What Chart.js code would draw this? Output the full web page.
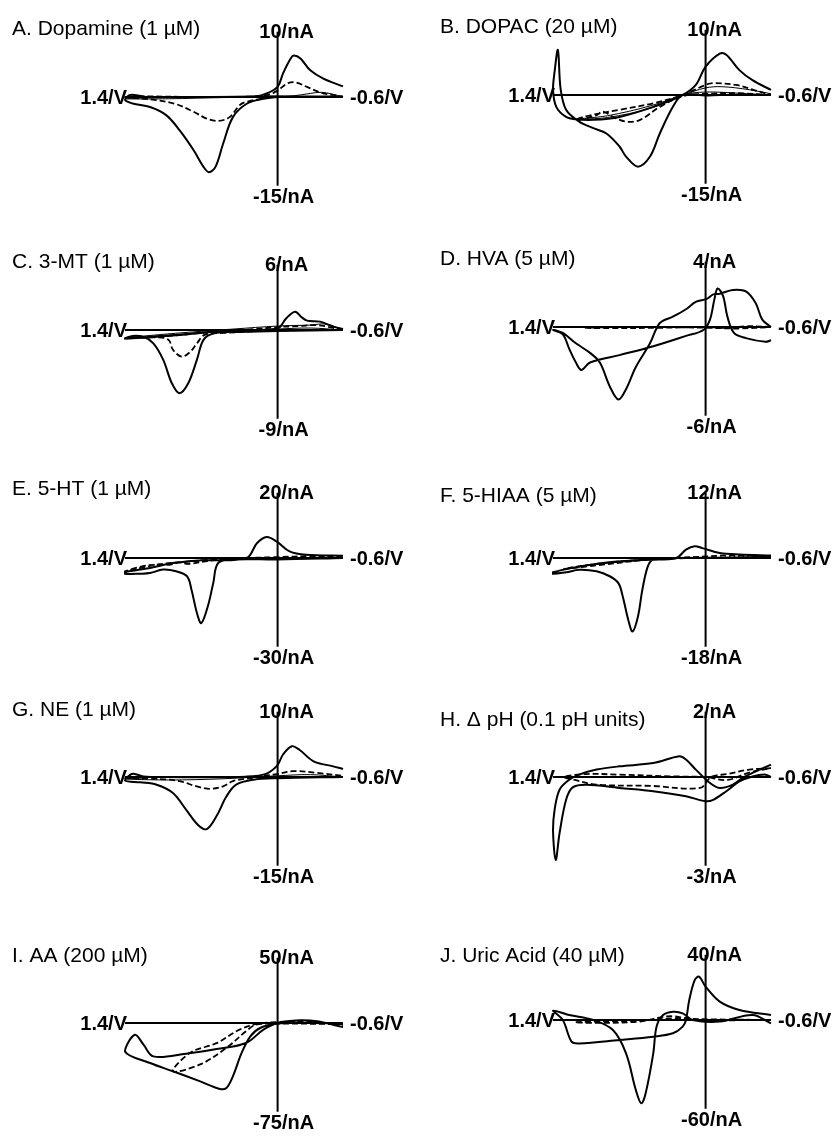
<!DOCTYPE html>
<html>
<head>
<meta charset="utf-8">
<script src="https://cdn.jsdelivr.net/npm/chart.js@4.4.1/dist/chart.umd.min.js"></script>
<style>
  body { margin: 0; background: #fff; width: 840px; height: 1136px; overflow: hidden; position: relative; }
  canvas { position: absolute; }
</style>
</head>
<body>
<div id="figura"></div>
<script>
// títulos y rangos de corriente de cada panel (nA)
const titulos = ['A. Dopamine (1 µM)', 'B. DOPAC (20 µM)', 'C. 3-MT (1 µM)', 'D. HVA (5 µM)',
  'E. 5-HT (1 µM)', 'F. 5-HIAA (5 µM)', 'G. NE (1 µM)', 'H. \u0394 pH (0.1 pH units)',
  'I. AA (200 µM)', 'J. Uric Acid (40 µM)'];
const yMax = [10, 10, 6, 4, 20, 12, 10, 2, 50, 40];
const yMin = [-15, -15, -9, -6, -30, -18, -15, -3, -75, -60];
const potencialIzq = 1.4;
const potencialDer = -0.6;

// voltamogramas: pares [V, nA]
const dopamineSolid = [[-0.6,0.1],[-0.4,0.1],[-0.2,0.05],[0,0],[0.13,-0.3],[0.28,-1.1],[0.41,-3.4],[0.5,-7.9],[0.57,-11.8],[0.63,-12.7],[0.68,-11.8],[0.77,-9],[0.9,-5.6],[1.02,-3.1],[1.17,-1.7],[1.33,-1.1],[1.4,-0.5],[1.36,0.3],[1.3,0.3],[1.2,0],[0.8,0],[0.4,0],[0.2,0.1],[0.1,0.6],[0,1.7],[-0.05,4],[-0.12,6.5],[-0.15,7],[-0.21,6.5],[-0.3,4.5],[-0.42,3.1],[-0.6,1.8]];
const dopamineDashed = [[-0.6,0],[-0.3,0],[0,0],[0.15,-0.3],[0.3,-0.9],[0.35,-1.4],[0.44,-3.4],[0.545,-4.05],[0.65,-3.66],[0.77,-2.5],[0.95,-1.1],[1.17,-0.4],[1.4,0],[1.2,0.1],[0.8,0],[0.4,0],[0.1,0.3],[0,1.1],[-0.09,2.3],[-0.16,2.5],[-0.27,1.7],[-0.4,0.7],[-0.52,0.3],[-0.6,0]];
const dopamineThin = [[-0.6,0],[-0.5,0.5],[-0.4,0.8],[-0.3,0.6],[-0.15,0.2],[0,0],[0.5,-0.1],[1.0,-0.3],[1.4,-0.3],[1.0,0],[0.5,0.1],[0,0.2],[-0.3,0.1],[-0.6,0]];

const dopacSolid = [[-0.6,0],[-0.13,0],[0,-0.1],[0.21,0],[0.3,-2.0],[0.42,-6.5],[0.51,-10.4],[0.62,-12.1],[0.73,-10.4],[0.79,-8.7],[0.91,-6.5],[1.03,-5.6],[1.16,-4.5],[1.28,-2.5],[1.33,1.0],[1.355,7.6],[1.385,4.0],[1.4,1.0],[1.37,-2.0],[1.28,-3.7],[1.19,-4.1],[1.03,-4.2],[0.79,-3.7],[0.48,-2.0],[0.21,0],[0.09,1.7],[0,4.8],[-0.13,7.0],[-0.19,6.8],[-0.31,4.2],[-0.43,2.5],[-0.6,0.85]];
const dopacDashed = [[-0.6,0],[-0.3,0.3],[0,0.2],[0.21,-0.2],[0.42,-2],[0.6,-4.2],[0.73,-4.5],[0.85,-3.7],[0.94,-2.8],[1.0,-3.4],[1.09,-3.9],[1.19,-4.2],[1.1,-3.6],[0.79,-2.5],[0.48,-1.4],[0.21,0],[0,1.7],[-0.07,2],[-0.28,1.7],[-0.45,0.8],[-0.6,0]];
const dopacThin = [[-0.6,0],[-0.3,0.3],[0,0.5],[0.21,0],[0.5,-2.2],[0.9,-3.8],[1.2,-4.1],[0.9,-3.5],[0.5,-1.8],[0.21,0],[0,1.2],[-0.15,1.4],[-0.4,0.9],[-0.6,0.2]];

const mtSolid = [[-0.6,0],[0,-0.1],[0.4,-0.2],[0.59,-0.35],[0.68,-1.0],[0.74,-3.0],[0.82,-5.4],[0.9,-6.4],[0.97,-5.4],[1.05,-3.0],[1.14,-1.35],[1.23,-0.7],[1.33,-0.6],[1.4,-0.85],[1.2,-0.75],[0.9,-0.5],[0.59,-0.17],[0.3,0],[0,0.17],[-0.08,1.2],[-0.16,1.86],[-0.22,1.3],[-0.27,0.95],[-0.39,0.85],[-0.51,0.34],[-0.6,0.1]];
const mtDashed = [[-0.6,0],[0,-0.05],[0.5,-0.3],[0.67,-0.5],[0.74,-1.35],[0.8,-2.2],[0.88,-2.7],[0.96,-2.0],[1.0,-1.0],[1.1,-0.75],[1.4,-0.85],[1.0,-0.6],[0.6,-0.2],[0.2,0.1],[0,0.3],[-0.2,0.4],[-0.35,0.5],[-0.45,0.35],[-0.6,0]];
const mtThin = [[-0.6,0],[-0.45,0.6],[-0.3,0.5],[0,0.4],[0.4,0.1],[0.9,-0.3],[1.4,-0.8],[1.0,-0.5],[0.5,-0.1],[0,0.1],[-0.3,0.2],[-0.6,0]];

const hvaSolid = [[-0.6,0],[-0.52,0.5],[-0.46,1.6],[-0.37,2.4],[-0.25,2.5],[-0.13,2.25],[-0.07,2.2],[-0.01,1.9],[0.09,1.7],[0.18,1.2],[0.3,0.7],[0.42,0.27],[0.51,-1.1],[0.64,-2.7],[0.73,-4.2],[0.8,-4.9],[0.88,-4.0],[0.97,-2.4],[1.06,-1.75],[1.19,-1.1],[1.31,-0.4],[1.4,-0.2],[1.31,-0.5],[1.25,-1.5],[1.19,-2.4],[1.14,-2.9],[1.06,-2.4],[0.79,-1.9],[0.48,-1.3],[0.18,-0.6],[0.02,-0.2],[-0.04,0.5],[-0.08,1.85],[-0.11,2.6],[-0.16,2.1],[-0.2,0.7],[-0.26,-0.4],[-0.37,-0.75],[-0.55,-1.0],[-0.6,-0.9]];
const hvaDashed = [[-0.6,0],[-0.4,0.05],[-0.2,-0.05],[0,0],[0.4,-0.05],[0.9,-0.08],[1.1,-0.05],[0.8,0],[0.4,0],[0,-0.05],[-0.3,-0.1],[-0.6,0]];

const htSolid = [[-0.6,0],[0,-0.5],[0.4,-0.5],[0.545,-1.7],[0.59,-8.4],[0.64,-16.3],[0.7,-22],[0.74,-18.6],[0.79,-10.7],[0.83,-6.2],[0.93,-4.5],[1.05,-3.9],[1.17,-5.1],[1.26,-5.3],[1.4,-5.3],[1.4,-4.8],[1.17,-3.4],[0.96,-1.7],[0.71,-0.8],[0.285,0],[0.19,5],[0.1,7.1],[0.01,5.6],[-0.11,2.25],[-0.26,1.1],[-0.6,0.8]];
const htDashed = [[-0.6,0],[-0.2,0],[0.3,-0.3],[0.6,-0.8],[0.82,-2],[0.9,-1.5],[0.98,-2.2],[1.2,-2.5],[1.4,-4.5],[1.1,-2.2],[0.85,-1.3],[0.5,-0.3],[0,0.3],[-0.3,0.6],[-0.6,0.3]];

const hiaaSolid = [[-0.6,0],[0.27,0],[0.48,-0.3],[0.53,-1.7],[0.58,-6.4],[0.62,-11.8],[0.67,-14.9],[0.71,-12.5],[0.76,-7.8],[0.8,-5.1],[0.88,-3.7],[1.0,-2.7],[1.16,-2.4],[1.28,-2.9],[1.4,-3.2],[1.4,-2.9],[1.22,-2.0],[0.94,-1.0],[0.55,-0.34],[0.27,0],[0.18,1.7],[0.1,2.4],[0.03,2.0],[-0.13,1.0],[-0.31,0.7],[-0.6,0.5]];
const hiaaDashed = [[-0.6,0.3],[-0.2,0.5],[0,0.3],[0.3,0],[0.6,-0.4],[1.0,-1.2],[1.3,-2.2],[1.0,-1.5],[0.6,-0.5],[0.3,-0.1],[0,0],[-0.6,0.3]];

const neSolid = [[-0.6,0],[0,-0.2],[0.22,-0.45],[0.38,-1.3],[0.47,-3.3],[0.56,-6.6],[0.65,-8.8],[0.73,-8.1],[0.84,-5.5],[0.96,-2.7],[1.11,-1.3],[1.26,-0.9],[1.4,-0.6],[1.35,0.4],[1.32,0.55],[1.23,0.1],[1.02,0],[0.41,0],[0.13,0.4],[0.01,1.8],[-0.05,3.8],[-0.13,5.2],[-0.2,4.6],[-0.33,2.65],[-0.51,1.8],[-0.6,1.35]];
const neDashed = [[-0.6,0],[0,0],[0.25,-0.2],[0.41,-0.7],[0.5,-1.6],[0.62,-2.0],[0.74,-1.6],[0.9,-0.7],[1.08,-0.35],[1.4,-0.2],[1.1,0],[0.6,0],[0.2,0.1],[0,0.5],[-0.14,1.0],[-0.36,0.7],[-0.6,0.2]];
const neThin = [[-0.6,0],[-0.3,0.4],[0,0.2],[0.5,-0.3],[1.0,-0.5],[1.4,-0.3],[1.0,0],[0.5,0],[0,0.1],[-0.6,0]];

const phSolid = [[-0.6,0],[-0.55,0.08],[-0.43,0.02],[-0.31,-0.15],[-0.19,-0.48],[-0.07,-0.77],[0,-0.82],[0.18,-0.65],[0.48,-0.48],[0.79,-0.37],[1.09,-0.26],[1.22,-0.35],[1.28,-0.77],[1.34,-1.9],[1.375,-2.8],[1.4,-1.8],[1.385,-1.1],[1.34,-0.43],[1.25,-0.09],[1.16,0.08],[1.0,0.25],[0.79,0.36],[0.48,0.47],[0.24,0.7],[0.18,0.59],[0.09,0.25],[-0.04,-0.2],[-0.13,-0.37],[-0.25,-0.26],[-0.34,-0.03],[-0.43,0.14],[-0.6,0.42]];
const phDashed = [[-0.6,0.3],[-0.4,0.25],[-0.2,0.1],[-0.05,0],[0.05,-0.37],[0.5,-0.3],[1.0,-0.26],[1.2,-0.1],[1.3,0],[1.1,0.1],[0.8,0.08],[0.3,0.02],[0,0],[-0.2,-0.1],[-0.4,0.15],[-0.6,0.3]];

const aaSolid = [[-0.6,-0.6],[-0.2,0.3],[0,-0.5],[0.16,-4.2],[0.25,-11.3],[0.33,-25.3],[0.41,-45],[0.47,-54.9],[0.53,-55.7],[0.71,-49.3],[0.96,-40.8],[1.17,-33.8],[1.4,-24],[1.31,-9.9],[1.23,-18.3],[1.14,-28.2],[0.84,-25.9],[0.56,-22],[0.29,-16.9],[0.13,-5.6],[0,0],[-0.2,2.25],[-0.36,1.4],[-0.6,-3.4]];
const aaDashed = [[-0.6,-1],[0,-0.5],[0.2,-1.5],[0.29,-7],[0.47,-21],[0.71,-35],[0.96,-40.8],[0.8,-25],[0.56,-17],[0.35,-5.6],[0.2,-1],[0,0.8],[-0.3,1.5],[-0.6,-2]];

const uricSolid = [[-0.6,-2.25],[-0.43,3.4],[-0.13,-1.1],[0.12,0],[0.21,4.5],[0.3,5.6],[0.39,3.4],[0.45,-4.5],[0.48,-22.5],[0.55,-49.5],[0.59,-56.3],[0.64,-47.3],[0.73,-22.5],[0.85,-6.8],[1.03,0],[1.25,3.4],[1.4,6.3],[1.31,0],[1.23,-14.6],[1.16,-15.8],[0.79,-13.5],[0.48,-11.3],[0.3,-9],[0.21,-4.5],[0.18,0],[0.15,13.5],[0.1,27],[0.06,29.3],[0,22.5],[-0.13,12.4],[-0.31,6.8],[-0.6,3.4]];
const uricDashed = [[-0.6,0],[0,0],[0.2,1.5],[0.3,2.5],[0.4,2],[0.6,-1],[1.0,-2],[1.2,-1.5],[1.0,-1],[0.5,0],[0.3,1],[0,0.5],[-0.6,0]];

const trazosSolidos = [dopamineSolid, dopacSolid, mtSolid, hvaSolid, htSolid, hiaaSolid, neSolid, phSolid, aaSolid, uricSolid];
const trazosDiscontinuos = [dopamineDashed, dopacDashed, mtDashed, hvaDashed, htDashed, hiaaDashed, neDashed, phDashed, aaDashed, uricDashed];
const trazosFinos = [dopamineThin, dopacThin, mtThin, null, null, null, neThin, null, null, null];

// posición de cada panel: y del eje horizontal en la página y subida del título
const ejeY = [97, 95, 330, 327, 558, 558, 777, 777, 1023, 1020];
const subidaTitulo = [62, 62, 62, 62, 63, 56, 61, 51, 61, 58];

const ANCHO = 412, ALTO = 220, EJE_CANVAS = 97;

const ejesCV = {
    id: 'ejesCV',
    beforeDatasetsDraw(chart, args, opts) {
        const { ctx, scales: { x, y } } = chart;
        const x0 = x.getPixelForValue(0), y0 = y.getPixelForValue(0);
        ctx.save();
        ctx.strokeStyle = '#000';
        ctx.lineWidth = 2;
        ctx.beginPath();
        ctx.moveTo(x.getPixelForValue(potencialIzq), y0);
        ctx.lineTo(x.getPixelForValue(potencialDer), y0);
        ctx.moveTo(x0, y.getPixelForValue(y.max) - 6);
        ctx.lineTo(x0, y.getPixelForValue(y.min));
        ctx.stroke();
        ctx.restore();
    },
    afterDraw(chart, args, opts) {
        const { ctx, scales: { x, y } } = chart;
        const x0 = x.getPixelForValue(0), y0 = y.getPixelForValue(0);
        ctx.save();
        ctx.fillStyle = '#000';
        ctx.font = 'bold 20px "Liberation Sans", Arial, sans-serif';
        ctx.textBaseline = 'middle';
        ctx.textAlign = 'right';
        ctx.fillText(potencialIzq + '/V', x.getPixelForValue(potencialIzq) + 2, y0 + 1);
        ctx.textAlign = 'left';
        ctx.fillText(potencialDer + '/V', x.getPixelForValue(potencialDer) + 7, y0 + 1);
        ctx.textAlign = 'center';
        ctx.fillText(y.max + '/nA', x0 + 9, y.getPixelForValue(y.max) - 5);
        ctx.fillText(y.min + '/nA', x0 + 6, y.getPixelForValue(y.min) + 12);
        ctx.font = '21px "Liberation Sans", Arial, sans-serif';
        ctx.textAlign = 'left';
        ctx.textBaseline = 'alphabetic';
        ctx.fillText(opts.titulo, 12, y0 - opts.subida);
        ctx.restore();
    }
};

function aPuntos(pares) {
    return pares.map(p => ({ x: p[0], y: p[1] }));
}

function crearPanel(i) {
    const canvas = document.createElement('canvas');
    canvas.width = ANCHO;
    canvas.height = ALTO;
    canvas.style.left = (i % 2 === 0 ? 0 : 428) + 'px';
    canvas.style.top = (ejeY[i] - EJE_CANVAS) + 'px';
    document.getElementById('figura').appendChild(canvas);

    const escala = 148 / (yMax[i] - yMin[i]);
    const comun = { showLine: true, pointRadius: 0, borderColor: '#000', backgroundColor: '#000', tension: 0.35, clip: false };
    const datasets = [
        { ...comun, data: aPuntos(trazosSolidos[i]), borderWidth: 2 },
        { ...comun, data: aPuntos(trazosDiscontinuos[i]), borderWidth: 1.8, borderDash: [6, 3] }
    ];
    if (trazosFinos[i]) {
        datasets.push({ ...comun, data: aPuntos(trazosFinos[i]), borderWidth: 1 });
    }

    new Chart(canvas.getContext('2d'), {
        type: 'scatter',
        data: { datasets },
        options: {
            responsive: false,
            animation: false,
            devicePixelRatio: 1,
            layout: {
                padding: {
                    left: 125,
                    right: ANCHO - 343,
                    top: EJE_CANVAS - yMax[i] * escala,
                    bottom: ALTO - EJE_CANVAS + yMin[i] * escala
                }
            },
            scales: {
                x: { type: 'linear', min: potencialDer, max: potencialIzq, reverse: true, display: false },
                y: { type: 'linear', min: yMin[i], max: yMax[i], display: false }
            },
            plugins: {
                legend: { display: false },
                tooltip: { enabled: false },
                ejesCV: { titulo: titulos[i], subida: subidaTitulo[i] }
            }
        },
        plugins: [ejesCV]
    });
}

document.addEventListener('DOMContentLoaded', () => {
    for (let i = 0; i < titulos.length; i++) crearPanel(i);
});
</script>
</body>
</html>
